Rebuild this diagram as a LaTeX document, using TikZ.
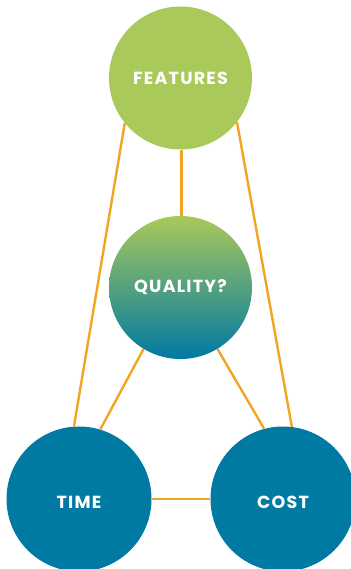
\documentclass[tikz,border=0pt]{standalone}
\usepackage{fontspec}
\newfontfamily\labfont[LetterSpace=7]{Poppins}
\definecolor{fgreen}{HTML}{A9C95A}
\definecolor{fblue}{HTML}{0079A3}
\definecolor{forange}{HTML}{F2A424}
\tikzset{
  ball/.style={circle, inner sep=0pt, minimum size=143pt, draw=none,
    text=white, font=\labfont\bfseries\fontsize{17.5}{19}\selectfont},
  link/.style={draw=forange, line width=2.4pt}
}
\newcommand{\lowtext}[1]{\raisebox{-10pt}[0pt][0pt]{#1}}
\begin{document}
\begin{tikzpicture}[x=1pt,y=1pt]
\useasboundingbox (0,0) rectangle (350,569);
\node[ball, fill=fgreen] (features) at (180.5,491) {FEATURES};
\node[ball, top color=fgreen, bottom color=fblue, shading angle=0] (quality) at (180.5,281.5) {QUALITY?};
\node[ball, fill=fblue, minimum size=145pt] (time) at (79,70) {\lowtext{TIME}};
\node[ball, fill=fblue, minimum size=145pt] (cost) at (283,70) {\lowtext{COST}};
\draw[link] (features.219.5) -- (time.94);
\draw[link] (features.322) -- (cost.83.6);
\draw[link] (features.south) ++(1,0) coordinate (fq) -- (fq |- quality.north);
\draw[link] (quality.239) -- (time.73.5);
\draw[link] (quality.301) -- (cost.105);
\draw[link] (time.east) -- (cost.west);
\end{tikzpicture}
\end{document}
